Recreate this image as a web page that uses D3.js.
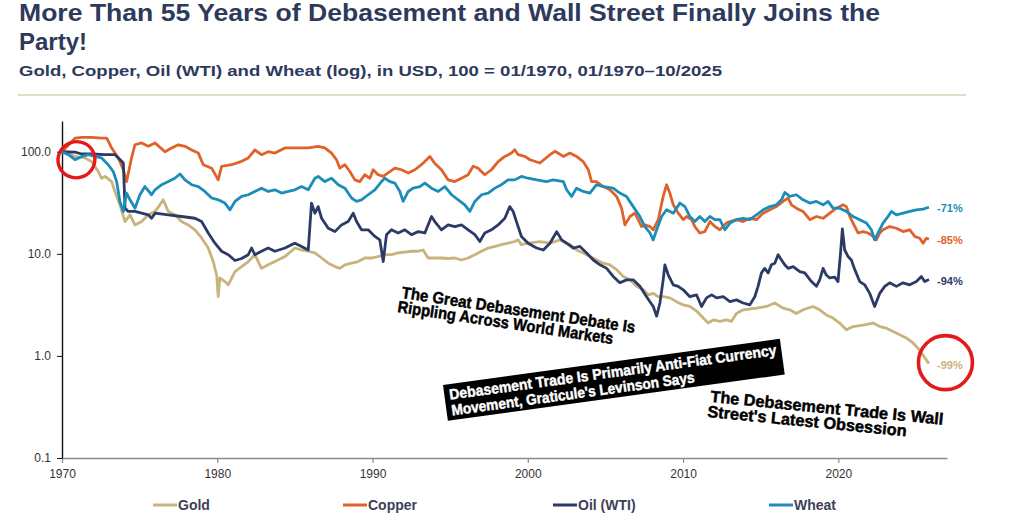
<!DOCTYPE html>
<html>
<head>
<meta charset="utf-8">
<script src="https://cdn.jsdelivr.net/npm/d3@7"></script>
<style>
  body { margin: 0; background: #fff; }
  svg { display: block; font-family: "Liberation Sans", Arial, Helvetica, sans-serif; }
</style>
</head>
<body>
<svg id="chart" width="1020" height="517"></svg>
<script>
// index values, 100 = 01/1970 as [year, value]
const gold = [
  [1970.0, 100], [1970.41, 97], [1970.84, 90], [1971.48, 87], [1971.91, 80], [1972.34, 64], [1972.55, 55], [1972.77, 57.3],
  [1973.2, 51], [1973.41, 40.8], [1973.73, 30.2], [1974.06, 20.7], [1974.38, 24.1], [1974.7, 19.2], [1975.13, 20.7], [1975.56, 24.1],
  [1975.99, 26], [1976.31, 30.2], [1976.52, 33.8], [1976.85, 26], [1977.27, 24.1], [1977.7, 20.7], [1978.13, 19.2], [1978.56, 17.2],
  [1978.99, 14.3], [1979.42, 11.4], [1979.74, 8.4], [1979.96, 6.2], [1980.06, 3.8], [1980.17, 5.8], [1980.49, 5.35], [1980.71, 4.97],
  [1981.14, 6.7], [1981.57, 7.5], [1982.0, 8.4], [1982.42, 9.8], [1982.85, 7.2], [1983.28, 7.8], [1983.71, 8.4], [1984.36, 9.4],
  [1985.0, 11.4], [1985.43, 10.9], [1985.86, 10.6], [1986.29, 10.2], [1986.72, 9.1], [1987.15, 8.1], [1987.58, 7.5], [1987.9, 7.2],
  [1988.22, 7.8], [1988.65, 8.1], [1989.08, 8.4], [1989.5, 9.1], [1989.94, 9.1], [1990.36, 9.4], [1990.79, 9.8], [1991.22, 9.8],
  [1991.65, 10.2], [1992.08, 10.4], [1992.51, 10.6], [1992.94, 10.6], [1993.26, 10.9], [1993.58, 9.1], [1994.01, 9.1], [1994.44, 9.1],
  [1994.87, 9.0], [1995.3, 9.1], [1995.73, 8.7], [1996.16, 9.1], [1996.59, 9.8], [1997.02, 10.6], [1997.45, 11.4], [1997.88, 11.8],
  [1998.3, 12.3], [1998.73, 12.7], [1999.16, 13.2], [1999.38, 13.7], [1999.59, 12.3], [2000.02, 12.7], [2000.78, 13.2], [2001.43, 12.7],
  [2002.07, 13.7], [2002.71, 12.3], [2003.14, 10.9], [2003.57, 10.2], [2004.0, 9.4], [2004.43, 8.7], [2004.86, 8.1], [2005.29, 7.8],
  [2005.72, 7.0], [2006.15, 6.0], [2006.58, 5.56], [2007.01, 4.8], [2007.44, 4.44], [2007.76, 3.96], [2008.08, 4.1], [2008.4, 3.8],
  [2008.72, 3.8], [2009.15, 3.7], [2009.58, 3.4], [2010.01, 3.16], [2010.44, 3.05], [2010.87, 2.75], [2011.3, 2.35], [2011.62, 2.1],
  [2011.94, 2.25], [2012.37, 2.18], [2012.8, 2.25], [2013.12, 2.18], [2013.44, 2.6], [2013.87, 2.83], [2014.73, 2.94], [2015.37, 3.05],
  [2015.91, 3.3], [2016.44, 2.94], [2016.87, 2.83], [2017.3, 2.6], [2017.73, 2.83], [2018.37, 3.05], [2018.8, 2.83], [2019.23, 2.52],
  [2019.66, 2.35], [2020.09, 2.1], [2020.52, 1.8], [2020.95, 1.94], [2021.59, 2.0], [2022.24, 2.1], [2022.67, 1.94], [2023.1, 1.87],
  [2023.53, 1.73], [2023.95, 1.61], [2024.38, 1.5], [2024.81, 1.34], [2025.24, 1.14], [2025.67, 0.91], [2025.84, 0.84],
];

const copper = [
  [1970.0, 100], [1970.84, 136], [1971.27, 138], [1971.91, 138], [1972.55, 136], [1972.88, 136], [1973.2, 109], [1973.63, 87],
  [1973.95, 66.6], [1974.16, 51], [1974.48, 87], [1974.7, 117], [1975.13, 122], [1975.56, 113], [1975.99, 122], [1976.63, 100],
  [1977.06, 109], [1977.49, 117], [1977.92, 113], [1978.35, 104], [1978.78, 97], [1979.1, 74.6], [1979.64, 69], [1980.06, 53],
  [1980.28, 72], [1980.92, 74.6], [1981.57, 80.5], [1982.0, 87], [1982.42, 104], [1982.85, 93.5], [1983.28, 100], [1983.71, 97],
  [1984.36, 109], [1985.0, 109], [1985.43, 109], [1985.86, 109], [1986.5, 113], [1986.93, 109], [1987.36, 97], [1987.68, 83.5],
  [1987.9, 69], [1988.22, 74.6], [1988.54, 64], [1988.86, 53], [1989.18, 51], [1989.5, 59.5], [1989.83, 55], [1990.04, 66.6],
  [1990.36, 59.5], [1990.69, 57.3], [1991.0, 62], [1991.44, 69], [1991.87, 66.6], [1992.3, 62], [1992.73, 66.6], [1993.15, 74.6],
  [1993.48, 83.5], [1993.69, 90], [1994.0, 77], [1994.44, 66.6], [1994.87, 53], [1995.3, 51], [1995.73, 55], [1996.16, 59.5],
  [1996.48, 72], [1996.8, 69], [1997.23, 59.5], [1997.66, 66.6], [1998.09, 80], [1998.52, 90], [1998.95, 97], [1999.16, 104.6],
  [1999.38, 93.5], [1999.81, 90], [2000.14, 83.5], [2000.78, 77.5], [2001.43, 93.5], [2001.75, 101], [2002.29, 90], [2002.71, 97],
  [2003.14, 90], [2003.57, 80], [2003.9, 66.6], [2004.11, 51], [2004.43, 51], [2004.86, 45.6], [2005.29, 42.4], [2005.72, 36.5],
  [2006.04, 28], [2006.26, 19.2], [2006.58, 23.2], [2006.9, 25], [2007.11, 21.6], [2007.33, 18.5], [2007.54, 19.2], [2007.87, 18.5],
  [2008.08, 17.2], [2008.4, 21.6], [2008.72, 36.5], [2008.94, 47.5], [2009.15, 39.4], [2009.37, 30.2], [2009.69, 25], [2010.01, 21.6],
  [2010.23, 23.2], [2010.55, 21.6], [2010.76, 18.5], [2011.08, 16], [2011.4, 16.5], [2011.73, 20.7], [2012.05, 18.5], [2012.37, 17.2],
  [2012.8, 20], [2013.01, 20.7], [2013.44, 21.6], [2013.87, 20.7], [2014.3, 22.3], [2014.73, 21.6], [2015.16, 25], [2015.59, 27],
  [2016.01, 29], [2016.44, 32.6], [2016.77, 35.2], [2016.98, 30.2], [2017.3, 28], [2017.73, 26], [2018.16, 21.6], [2018.59, 23.2],
  [2019.02, 22.3], [2019.45, 25], [2019.88, 28], [2020.31, 30.2], [2020.52, 29], [2020.74, 23.2], [2020.95, 20], [2021.27, 16],
  [2021.59, 16.5], [2021.92, 16], [2022.24, 14.8], [2022.45, 13.7], [2022.67, 16], [2022.88, 17.2], [2023.31, 18.5], [2023.74, 17.8],
  [2024.17, 16.5], [2024.6, 17.2], [2024.92, 14.8], [2025.24, 14.2], [2025.46, 12.7], [2025.67, 14.2], [2025.84, 13.9],
];

const oil = [
  [1970.0, 100], [1970.84, 99], [1971.27, 95], [1971.91, 95], [1972.77, 93.5], [1973.41, 93.5], [1973.63, 87], [1973.95, 77.5],
  [1974.06, 28], [1974.27, 26], [1974.7, 26], [1975.13, 25], [1975.56, 24.1], [1975.77, 22.3], [1975.99, 25], [1976.85, 24.1],
  [1977.7, 23.2], [1978.56, 22.3], [1978.99, 20.7], [1979.42, 16], [1979.85, 12.7], [1980.28, 10.6], [1980.71, 9.8], [1981.14, 8.6],
  [1981.57, 9.0], [1982.0, 9.8], [1982.21, 11.4], [1982.42, 9.8], [1982.85, 10.6], [1983.28, 11.4], [1983.71, 10.6], [1984.36, 11.4],
  [1984.79, 12.3], [1985.0, 12.7], [1985.43, 11.8], [1985.86, 10.9], [1986.07, 31.4], [1986.29, 25], [1986.5, 29], [1986.72, 22.3],
  [1987.15, 17.8], [1987.58, 16.5], [1988.0, 19.2], [1988.43, 20.7], [1988.76, 25], [1988.97, 20.7], [1989.29, 17.2], [1989.72, 17.2],
  [1990.15, 14.8], [1990.47, 13.7], [1990.69, 8.4], [1990.9, 15.4], [1991.22, 17.2], [1991.65, 16], [1992.08, 17.2], [1992.51, 15.4],
  [1992.94, 16.5], [1993.37, 16], [1993.8, 23.2], [1994.01, 20.7], [1994.44, 17.2], [1994.87, 19.2], [1995.3, 18.5], [1995.73, 19.2],
  [1996.16, 17.2], [1996.59, 15.4], [1996.91, 13.2], [1997.23, 16], [1997.66, 17.2], [1998.09, 19.2], [1998.52, 22.3], [1998.84, 29],
  [1999.06, 26], [1999.27, 20.7], [1999.59, 14.8], [2000.02, 12.7], [2000.57, 11.4], [2001.0, 10.9], [2001.43, 12.7], [2001.86, 16.5],
  [2002.18, 13.7], [2002.5, 12.7], [2002.93, 11.4], [2003.36, 11.8], [2003.79, 10.2], [2004.22, 8.7], [2004.65, 7.8], [2005.08, 7.2],
  [2005.5, 6.0], [2005.93, 5.2], [2006.36, 5.56], [2006.79, 5.56], [2007.22, 4.8], [2007.65, 3.8], [2008.08, 3.05], [2008.3, 2.45],
  [2008.51, 3.3], [2008.72, 5.56], [2008.83, 7.8], [2009.05, 6.2], [2009.37, 4.97], [2009.69, 4.8], [2010.01, 4.44], [2010.44, 3.8],
  [2010.87, 3.96], [2011.19, 3.05], [2011.51, 3.7], [2011.84, 3.96], [2012.16, 3.7], [2012.59, 3.8], [2013.02, 3.4], [2013.44, 3.54],
  [2013.87, 3.3], [2014.3, 3.16], [2014.62, 3.8], [2014.83, 4.8], [2015.05, 6.5], [2015.26, 7.2], [2015.48, 6.5], [2015.69, 7.8],
  [2015.91, 8.1], [2016.12, 9.8], [2016.34, 8.7], [2016.55, 7.8], [2016.77, 7.2], [2017.09, 7.5], [2017.52, 6.7], [2017.84, 6.5],
  [2018.27, 5.35], [2018.59, 4.8], [2018.8, 5.56], [2019.02, 7.2], [2019.23, 6.2], [2019.45, 5.8], [2019.77, 5.9], [2019.98, 5.35],
  [2020.16, 10.9], [2020.26, 17.5], [2020.41, 10.9], [2020.63, 9.4], [2020.84, 8.7], [2021.06, 7.0], [2021.38, 5.35], [2021.7, 4.97],
  [2022.02, 4.1], [2022.34, 3.05], [2022.67, 4.1], [2022.99, 4.8], [2023.31, 5.2], [2023.74, 4.8], [2024.17, 5.2], [2024.6, 4.97],
  [2025.03, 5.35], [2025.35, 6.0], [2025.56, 5.35], [2025.84, 5.6],
];

const wheat = [
  [1970.0, 100], [1970.41, 93.5], [1970.84, 83.5], [1971.27, 90], [1971.7, 93.5], [1972.12, 90], [1972.55, 87], [1972.98, 74.6],
  [1973.3, 64], [1973.52, 51], [1973.73, 32.6], [1973.95, 26], [1974.16, 39.4], [1974.38, 33.8], [1974.7, 28], [1975.02, 37.9],
  [1975.34, 45.6], [1975.77, 37.9], [1975.99, 42.4], [1976.42, 47.5], [1976.85, 51], [1977.27, 55], [1977.6, 60.5], [1977.92, 53],
  [1978.35, 47.5], [1978.78, 45.6], [1979.2, 40.8], [1979.64, 35.2], [1980.06, 33.8], [1980.49, 31.4], [1980.82, 27], [1981.14, 32.6],
  [1981.57, 36.5], [1982.0, 37.9], [1982.42, 40.8], [1982.85, 44], [1983.28, 40.8], [1983.71, 42.4], [1984.14, 39.4], [1984.57, 40.8],
  [1985.0, 42.4], [1985.43, 45.6], [1985.86, 42.4], [1986.29, 55], [1986.5, 57.3], [1986.93, 51], [1987.36, 55], [1987.79, 47.5],
  [1988.22, 44], [1988.65, 35.2], [1988.97, 32.6], [1989.29, 33.8], [1989.72, 37.9], [1990.15, 42.4], [1990.58, 51], [1990.79, 55],
  [1991.12, 51], [1991.44, 49.3], [1991.76, 40.8], [1991.97, 32.6], [1992.3, 40.8], [1992.62, 44], [1993.05, 45.6], [1993.37, 49.3],
  [1993.8, 44], [1994.23, 40.8], [1994.66, 45.6], [1995.09, 37.9], [1995.52, 33.8], [1995.94, 30.2], [1996.27, 26], [1996.59, 32.6],
  [1997.02, 37.9], [1997.45, 39.4], [1997.88, 44], [1998.3, 47.5], [1998.73, 53], [1999.16, 53], [1999.59, 57.3], [2000.02, 55],
  [2000.57, 53], [2001.21, 51], [2001.64, 53], [2002.29, 51], [2002.5, 42.4], [2002.82, 36.5], [2003.14, 44], [2003.57, 40.8],
  [2004.0, 39.4], [2004.43, 47.5], [2004.86, 45.6], [2005.5, 44], [2005.93, 39.4], [2006.36, 36.5], [2006.79, 29], [2007.22, 23.2],
  [2007.54, 18.5], [2007.87, 16], [2008.08, 13.7], [2008.3, 17.2], [2008.62, 23.2], [2008.94, 27], [2009.37, 25], [2009.8, 31.4],
  [2010.12, 29], [2010.44, 23.2], [2010.76, 20.7], [2011.08, 23.2], [2011.4, 20.7], [2011.73, 23.2], [2012.05, 21.6], [2012.37, 21.6],
  [2012.7, 17.2], [2013.02, 20], [2013.44, 21.6], [2013.87, 22.3], [2014.3, 21.6], [2014.73, 24.1], [2015.16, 27], [2015.59, 29],
  [2016.01, 30.2], [2016.34, 33.8], [2016.55, 39.9], [2016.87, 36.5], [2017.3, 37.9], [2017.73, 33.8], [2018.16, 31.4], [2018.59, 32.6],
  [2019.02, 30.2], [2019.34, 32.6], [2019.66, 28], [2020.09, 28], [2020.52, 26], [2020.95, 23.2], [2021.38, 21.6], [2021.81, 20],
  [2022.13, 17.2], [2022.34, 13.7], [2022.56, 16], [2022.88, 20], [2023.2, 23.2], [2023.42, 26], [2023.74, 24.1], [2024.17, 25],
  [2024.6, 26], [2025.03, 27], [2025.46, 27.4], [2025.84, 28.6],
];

const seriesNames = ['Gold', 'Copper', 'Oil (WTI)', 'Wheat'];
const endChanges = ['-99%', '-85%', '-94%', '-71%'];
const yTicks = [0.1, 1, 10, 100];
const xTicks = [1970, 1980, 1990, 2000, 2010, 2020];

const title = ['More Than 55 Years of Debasement and Wall Street Finally Joins the', 'Party!'];
const subtitle = 'Gold, Copper, Oil (WTI) and Wheat (log), in USD, 100 = 01/1970, 01/1970\u201310/2025';
const headlines = [
  ['The Great Debasement Debate Is', 'Rippling Across World Markets'],
  ['Debasement Trade Is Primarily Anti-Fiat Currency', "Movement, Graticule's Levinson Says"],
  ['The Debasement Trade Is Wall', "Street's Latest Obsession"],
];

const width = 1020;
const height = 517;
const margin = { top: 121, right: 73, bottom: 59, left: 62 };
const colors = ['#c9b37c', '#e0622b', '#2c3a66', '#1b8db8'];
const legendX = [153, 343, 553, 769];

const svg = d3.select('#chart');
svg.append('rect').attr('width', width).attr('height', height).attr('fill', '#fff');

// header
const head = svg.append('g').attr('fill', '#2e3a5c').attr('font-weight', 'bold');
head.append('text').attr('x', 19).attr('y', 21).attr('font-size', 24)
  .attr('textLength', 861).attr('lengthAdjust', 'spacingAndGlyphs').text(title[0]);
head.append('text').attr('x', 19).attr('y', 49.5).attr('font-size', 24).text(title[1]);
head.append('text').attr('x', 19).attr('y', 76).attr('font-size', 15)
  .attr('textLength', 703).attr('lengthAdjust', 'spacingAndGlyphs').text(subtitle);
svg.append('line').attr('x1', 18).attr('x2', 966).attr('y1', 95).attr('y2', 95)
  .attr('stroke', '#d8d6b2').attr('stroke-width', 1.5);

const x = d3.scaleLinear().domain([1970, 2027]).range([margin.left, width - margin.right]);
const y = d3.scaleLog().domain([0.1, 200]).range([height - margin.bottom, margin.top]);

const xAxis = d3.axisBottom(x).tickValues(xTicks).tickFormat(d3.format('d')).tickSize(5).tickSizeOuter(0).tickPadding(6);
const yAxis = d3.axisLeft(y).tickValues(yTicks).tickFormat(d3.format('.1f')).tickSize(5).tickSizeOuter(0).tickPadding(6);

const gx = svg.append('g').attr('transform', `translate(0,${height - margin.bottom})`).call(xAxis);
gx.select('.domain').attr('stroke', '#8a8a8a').attr('stroke-width', 1.6);
gx.selectAll('.tick line').attr('stroke', '#8a8a8a').attr('stroke-width', 1.2);
gx.selectAll('.tick text').attr('font-size', 12).attr('fill', '#333').attr('font-family', null);

const gy = svg.append('g').attr('transform', `translate(${margin.left},0)`).call(yAxis);
gy.select('.domain').attr('stroke', '#111').attr('stroke-width', 1.4);
gy.selectAll('.tick line').attr('stroke', '#111');
gy.selectAll('.tick text').attr('font-size', 12).attr('fill', '#333').attr('font-family', null);

// series
const allSeries = [gold, copper, oil, wheat];
const line = d3.line().x(d => x(d[0])).y(d => y(d[1]));

svg.append('g').selectAll('path')
  .data(allSeries)
  .join('path')
  .attr('d', line)
  .attr('fill', 'none')
  .attr('stroke', (d, i) => colors[i])
  .attr('stroke-width', 2.8)
  .attr('stroke-linejoin', 'round');

svg.append('g').selectAll('text')
  .data(allSeries)
  .join('text')
  .attr('x', 937)
  .attr('y', d => y(d[d.length - 1][1]) + 1)
  .attr('dominant-baseline', 'central')
  .attr('font-size', 11)
  .attr('font-weight', 'bold')
  .attr('fill', (d, i) => colors[i])
  .text((d, i) => endChanges[i]);

// hand-drawn highlight marks
svg.append('ellipse')
  .attr('cx', x(1970.93)).attr('cy', y(83.5)).attr('rx', 18.5).attr('ry', 18)
  .attr('transform', `rotate(-20,${x(1970.93)},${y(83.5)})`)
  .attr('fill', 'none').attr('stroke', '#e3191b').attr('stroke-width', 3.4);
svg.append('circle')
  .attr('cx', x(2026.9)).attr('cy', y(0.86)).attr('r', 27)
  .attr('fill', 'none').attr('stroke', '#e3191b').attr('stroke-width', 3.6);

// pasted headlines
const hl = svg.append('g').attr('font-weight', 'bold').attr('font-size', 16.5)
  .attr('stroke-width', 0.45).attr('paint-order', 'stroke');

const h1 = hl.append('g').attr('transform', 'translate(401,298) rotate(8.5)').attr('fill', '#000').attr('stroke', '#000');
h1.append('text').attr('x', 0).attr('y', 0).attr('textLength', 236).attr('lengthAdjust', 'spacingAndGlyphs').text(headlines[0][0]);
h1.append('text').attr('x', -2).attr('y', 14.5).attr('textLength', 218).attr('lengthAdjust', 'spacingAndGlyphs').text(headlines[0][1]);

const h2 = hl.append('g').attr('transform', 'translate(443,385) rotate(-7.8)');
h2.append('rect').attr('width', 340).attr('height', 36).attr('fill', '#000');
h2.append('text').attr('x', 5).attr('y', 15.5).attr('fill', '#fff').attr('stroke', '#fff').attr('font-size', 15)
  .attr('textLength', 330).attr('lengthAdjust', 'spacingAndGlyphs').text(headlines[1][0]);
h2.append('text').attr('x', 5).attr('y', 31.5).attr('fill', '#fff').attr('stroke', '#fff').attr('font-size', 15)
  .attr('textLength', 245).attr('lengthAdjust', 'spacingAndGlyphs').text(headlines[1][1]);

const h3 = hl.append('g').attr('transform', 'translate(710,402) rotate(5.6)').attr('fill', '#000').attr('stroke', '#000');
h3.append('text').attr('x', 0).attr('y', 0).attr('textLength', 234).attr('lengthAdjust', 'spacingAndGlyphs').text(headlines[2][0]);
h3.append('text').attr('x', -1.5).attr('y', 15.2).attr('textLength', 200).attr('lengthAdjust', 'spacingAndGlyphs').text(headlines[2][1]);

// legend
const legend = svg.append('g').selectAll('g')
  .data(seriesNames)
  .join('g')
  .attr('transform', (d, i) => `translate(${legendX[i]},505)`);
legend.append('line').attr('x1', 0).attr('x2', 24)
  .attr('stroke', (d, i) => colors[i]).attr('stroke-width', 3);
legend.append('text').attr('x', 25).attr('y', 5).attr('font-size', 14).attr('font-weight', 'bold')
  .attr('fill', '#3d4156').text(d => d);
</script>
</body>
</html>
